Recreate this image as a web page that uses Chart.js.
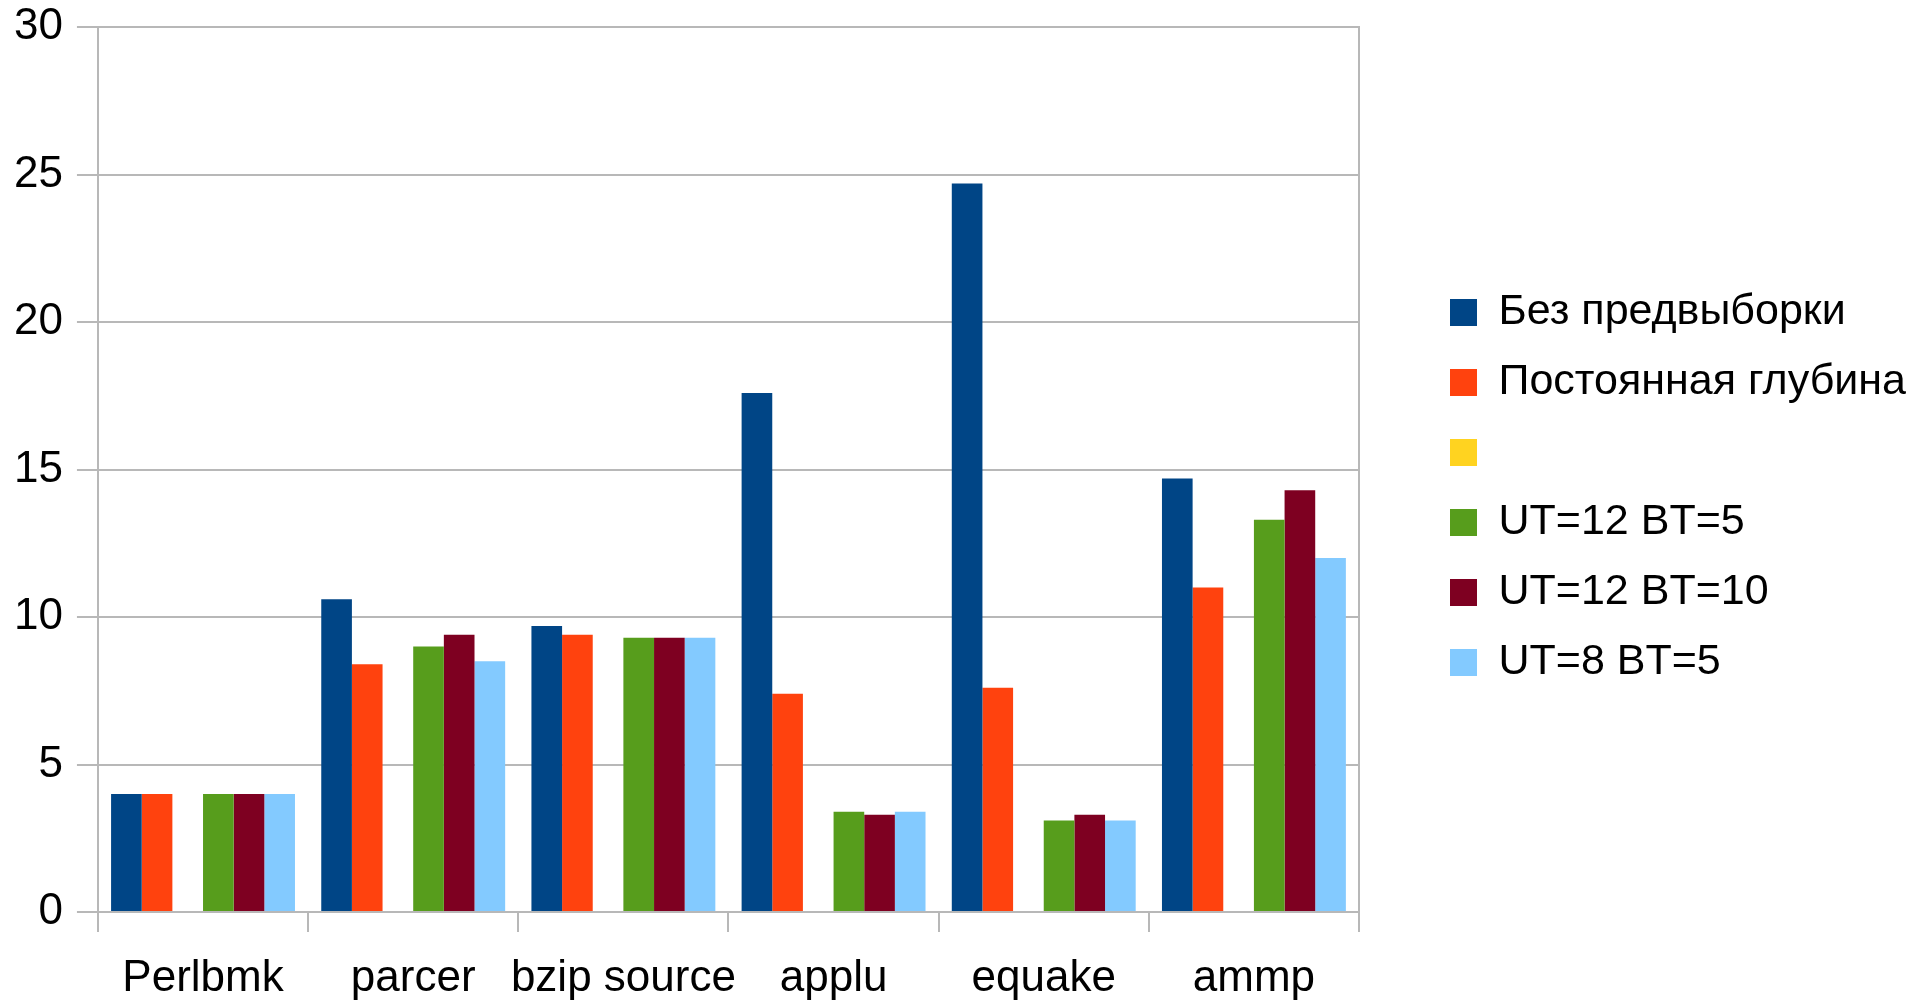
<!DOCTYPE html>
<html>
<head>
<meta charset="utf-8">
<script src="https://cdn.jsdelivr.net/npm/chart.js@4"></script>
<style>
html,body{margin:0;padding:0;background:#fff;}
#wrap{width:1916px;height:1000px;}
</style>
</head>
<body>
<div id="wrap"><canvas id="c"></canvas></div>
<script>
const categories = ["Perlbmk", "parcer", "bzip source", "applu", "equake", "ammp"];
const seriesNames = ["Без предвыборки", "Постоянная глубина", "", "UT=12 BT=5", "UT=12 BT=10", "UT=8 BT=5"];
const noPrefetch   = [4.0, 10.6, 9.7, 17.6, 24.7, 14.7];
const constDepth   = [4.0, 8.4, 9.4, 7.4, 7.6, 11.0];
const emptySeries  = [null, null, null, null, null, null];
const ut12bt5      = [4.0, 9.0, 9.3, 3.4, 3.1, 13.3];
const ut12bt10     = [4.0, 9.4, 9.3, 3.3, 3.3, 14.3];
const ut8bt5       = [4.0, 8.5, 9.3, 3.4, 3.1, 12.0];
const yTicks = [0, 5, 10, 15, 20, 25, 30];
const colors = ["#004586", "#ff420e", "#ffd320", "#579d1c", "#7e0021", "#83caff"];

const seriesValues = [noPrefetch, constDepth, emptySeries, ut12bt5, ut12bt10, ut8bt5];

Chart.defaults.font.family = "'Liberation Sans', Arial, sans-serif";
Chart.defaults.font.size = 44;
Chart.defaults.color = "#000";

const gridColor = "#b8b8b8";

new Chart(document.getElementById('c'), {
  type: 'bar',
  data: {
    labels: categories,
    datasets: seriesValues.map((vals, i) => ({
      label: seriesNames[i],
      data: vals,
      backgroundColor: colors[i],
      borderWidth: 0,
      categoryPercentage: 0.875,
      barPercentage: 1.0,
      yAxisID: 'y'
    }))
  },
  options: {
    responsive: true,
    maintainAspectRatio: false,
    animation: false,
    layout: { padding: { left: 0, top: 0, right: 0, bottom: 0 } },
    plugins: {
      tooltip: { enabled: false },
      legend: {
        position: 'right',
        align: 'start',
        maxWidth: 800,
        title: { display: true, text: ' ', font: { size: 10, lineHeight: 1 }, padding: { top: 254, bottom: 0 } },
        labels: {
          boxWidth: 27,
          boxHeight: 27,
          padding: 27,
          color: '#000',
          font: { size: 43 }
        }
      }
    },
    scales: {
      x: {
        grid: {
          display: true,
          drawOnChartArea: false,
          offset: true,
          tickLength: 20,
          color: gridColor,
          lineWidth: 2
        },
        border: { display: true, color: gridColor, width: 2 },
        ticks: { padding: 31, color: '#000', font: { size: 44, lineHeight: 0.7 }, maxRotation: 0, autoSkip: false },
        afterFit: (scale) => { scale.height = 88; }
      },
      y: {
        min: 0,
        max: 30,
        afterBuildTicks: (scale) => { scale.ticks = yTicks.map(v => ({ value: v })); },
        grid: { color: gridColor, lineWidth: 2, tickLength: 21 },
        border: { display: true, color: gridColor, width: 2 },
        ticks: { padding: 14, color: '#000', font: { size: 44, lineHeight: 0.6 } }
      },
      yRight: {
        position: 'right',
        min: 0,
        max: 30,
        grid: { display: false, drawOnChartArea: false, drawTicks: false },
        border: { display: true, color: gridColor, width: 2 },
        ticks: { display: false },
        afterFit: (scale) => { scale.width = 64; }
      }
    }
  }
});
</script>
</body>
</html>
